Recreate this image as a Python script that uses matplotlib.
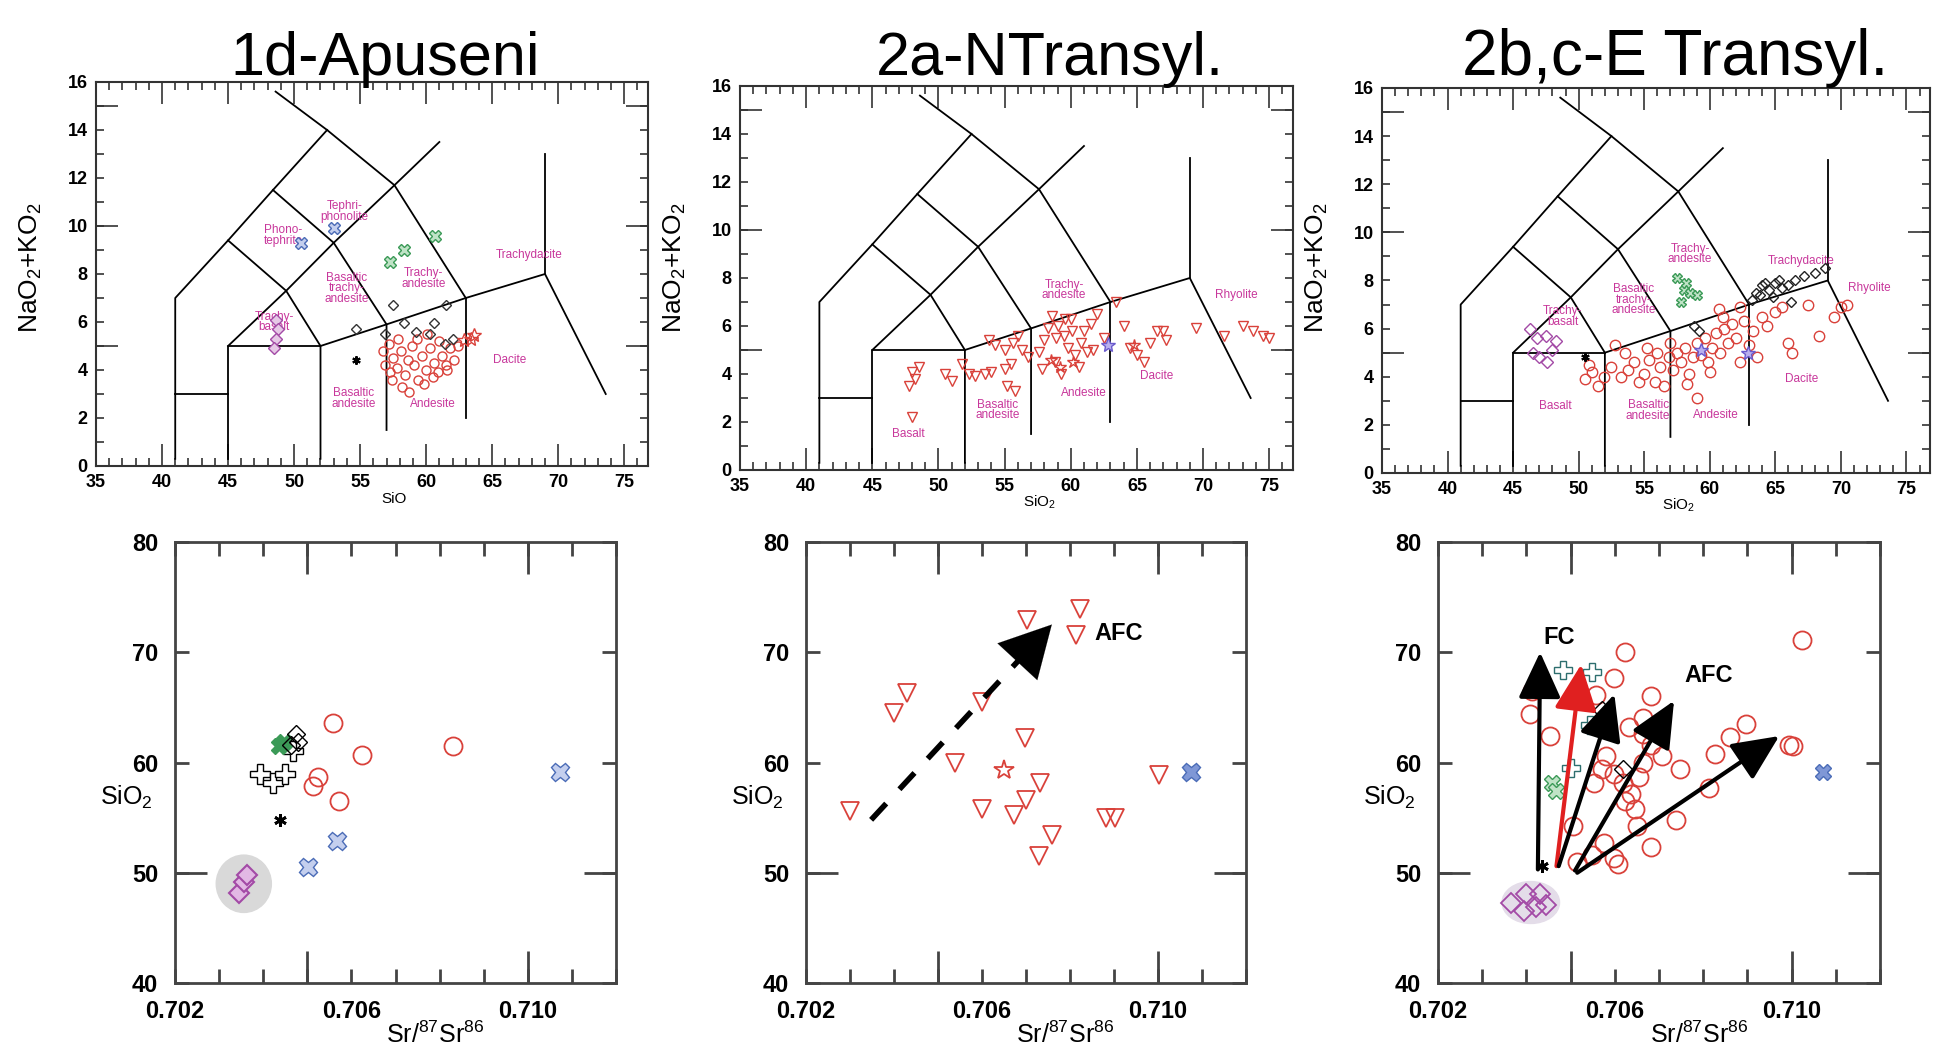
import numpy as np
import matplotlib.pyplot as plt
from matplotlib.ticker import MultipleLocator, FixedLocator, FuncFormatter
from matplotlib.patches import Ellipse

plt.rcParams['font.family'] = ['Liberation Sans', 'DejaVu Sans']
plt.rcParams['font.weight'] = 'bold'
plt.rcParams['mathtext.default'] = 'regular'

W, H = 1936, 1058

RED = '#d9413a'
PURPLE = '#a34aa6'
GREEN = '#3b9a57'
BLUE = '#4b6cb7'
PINK = '#c8379b'

# ---- TAS field boundaries (SiO2, Na2O+K2O)
tas_lines = [
    [(41, 0.3), (41, 7), (45, 9.4), (48.4, 11.5), (52.5, 14)],
    [(48.6, 15.6), (52.5, 14), (57.6, 11.7), (63, 7)],
    [(45, 5), (49.4, 7.3), (53, 9.3), (57.6, 11.7), (61, 13.5)],
    [(41, 3), (45, 3)],
    [(45, 0.3), (45, 5), (52, 5)],
    [(45, 9.4), (49.4, 7.3), (52, 5), (52, 0.3)],
    [(48.4, 11.5), (53, 9.3), (57, 5.9), (57, 1.5)],
    [(52, 5), (57, 5.9), (63, 7), (69, 8), (73.6, 3)],
    [(63, 7), (63, 2)],
    [(69, 8), (69, 13)],
]

# ---- 1d Apuseni, TAS
a_circ_x = [56.7, 57.2, 57.5, 57.8, 58.1, 58.4, 58.6, 58.9, 59.1, 59.4, 59.7, 60.0, 60.3, 60.6, 60.9, 61.2,
            61.5, 61.8, 62.1, 57.4, 58.2, 59.3, 60.1, 57.9, 56.9, 61.0, 62.4, 59.8, 58.7, 57.3, 60.5, 61.6]
a_circ_y = [4.8, 5.1, 4.5, 4.1, 4.8, 3.8, 4.4, 5.0, 4.2, 3.6, 4.6, 4.0, 4.9, 4.3, 3.9, 4.6,
            4.2, 4.9, 4.4, 3.6, 3.3, 5.3, 5.5, 5.3, 4.2, 5.2, 5.0, 3.4, 3.1, 3.9, 3.7, 4.0]
a_dia_x = [57.5, 61.5, 54.7, 58.3, 60.6, 56.9, 60.3, 61.4, 59.2, 62.0]
a_dia_y = [6.7, 6.7, 5.7, 5.95, 5.95, 5.5, 5.5, 5.1, 5.6, 5.3]
a_pdia_x = [48.6, 48.8, 48.6, 48.5]
a_pdia_y = [6.1, 5.7, 5.3, 4.9]
a_gx_x = [57.3, 58.3, 60.7]
a_gx_y = [8.5, 9.0, 9.6]
a_bx_x = [50.5, 53.0]
a_bx_y = [9.3, 9.9]
a_star_x = [62.9, 63.4, 63.6]
a_star_y = [5.25, 5.3, 5.45]
a_ast_x = [54.7]
a_ast_y = [4.4]

# ---- 2a N Transylvania, TAS
b_tri_x = [48.0, 48.2, 47.8, 48.5, 48.0, 50.5, 51.0, 51.8, 52.3, 52.8, 53.5, 54.0, 55.0, 55.5, 55.2, 55.8,
           54.3, 55.0, 55.6, 56.3, 56.8, 57.8, 58.3, 58.6, 59.0, 59.5, 59.8, 60.3, 60.6, 58.8, 61.0, 61.5,
           62.0, 62.5, 60.0, 61.2, 63.4, 64.0, 64.5, 65.0, 65.5, 66.0, 66.5, 67.0, 67.2, 69.5, 71.6, 73.0,
           73.8, 74.5, 75.0, 58.0, 58.9, 59.6, 60.8, 61.7, 57.6, 59.3, 60.1, 56.0, 53.8]
b_tri_y = [4.1, 3.8, 3.5, 4.3, 2.2, 4.0, 3.7, 4.4, 4.0, 3.9, 4.0, 4.1, 4.2, 4.4, 3.5, 3.3,
           5.2, 5.0, 5.3, 5.0, 4.7, 4.2, 5.9, 6.4, 6.0, 5.6, 5.1, 4.8, 4.3, 4.5, 5.8, 6.1,
           6.5, 5.5, 6.3, 4.9, 7.0, 6.0, 5.1, 4.8, 4.5, 5.3, 5.8, 5.8, 5.4, 5.9, 5.6, 6.0,
           5.8, 5.6, 5.5, 5.4, 5.5, 6.3, 5.3, 5.0, 4.9, 4.0, 5.8, 5.6, 5.4]
b_star_x = [58.5, 59.2, 60.2, 64.8]
b_star_y = [4.6, 4.3, 4.5, 5.2]
b_bstar_x = [62.8]
b_bstar_y = [5.2]

# ---- 2b,c E Transylvania, TAS
c_circ_x = [51.0, 50.5, 51.5, 50.8, 51.9, 52.5, 52.8, 53.2, 53.8, 54.2, 54.6, 55.0, 55.4, 55.8, 56.2, 56.5,
            56.9, 57.2, 57.5, 57.8, 58.1, 58.4, 58.7, 59.0, 59.3, 59.6, 59.9, 60.2, 60.5, 60.8, 61.1, 61.4,
            61.7, 62.0, 62.3, 62.6, 63.0, 63.3, 63.6, 64.0, 64.4, 65.0, 65.5, 66.0, 66.3, 67.5, 68.3, 69.5,
            70.0, 70.5, 58.3, 59.0, 60.0, 57.0, 56.0, 53.5, 61.0, 60.7, 62.3, 55.2]
c_circ_y = [4.2, 3.9, 3.6, 4.5, 4.0, 4.4, 5.3, 4.0, 4.3, 4.6, 3.8, 4.1, 4.7, 3.8, 4.4, 3.6,
            4.8, 4.3, 5.0, 4.6, 5.2, 4.1, 4.8, 5.4, 4.9, 5.6, 4.6, 5.2, 5.8, 5.0, 6.0, 5.4,
            6.2, 5.6, 4.6, 6.3, 5.3, 5.9, 4.8, 6.5, 6.1, 6.7, 6.9, 5.4, 5.0, 7.0, 5.7, 6.5,
            6.9, 7.0, 3.7, 3.1, 4.2, 5.4, 5.0, 5.0, 6.5, 6.8, 6.9, 5.2]
c_dia_x = [63.5, 64.0, 64.5, 65.0, 65.5, 66.0, 63.2, 64.8, 65.3, 66.5, 67.2, 68.0, 68.8, 66.2, 58.8, 59.2, 63.8, 64.2]
c_dia_y = [7.5, 7.8, 7.6, 7.9, 7.7, 7.8, 7.2, 7.3, 8.0, 8.0, 8.2, 8.3, 8.5, 7.1, 6.1, 5.9, 7.4, 7.9]
c_gx_x = [57.5, 58.0, 57.8, 58.5, 59.0, 58.2]
c_gx_y = [8.1, 7.6, 7.1, 7.5, 7.4, 7.9]
c_pdia_x = [46.3, 46.8, 47.5, 48.0, 47.0, 46.5, 47.6, 48.3]
c_pdia_y = [6.0, 5.6, 5.7, 5.1, 4.8, 5.0, 4.6, 5.5]
c_ast_x = [50.5]
c_ast_y = [4.8]
c_bstar_x = [59.3, 62.9]
c_bstar_y = [5.1, 5.0]

# ---- 1d Apuseni, Sr isotopes vs SiO2
d_circ_x = [0.70558, 0.70625, 0.70830, 0.70525, 0.70513, 0.70571]
d_circ_y = [63.6, 60.7, 61.5, 58.7, 57.9, 56.5]
d_bx_x = [0.70502, 0.70568, 0.71073]
d_bx_y = [50.5, 52.9, 59.1]
d_ast_x = [0.70439]
d_ast_y = [54.8]
d_plus_x = [0.70393, 0.70422, 0.70450, 0.70468]
d_plus_y = [59.0, 58.1, 59.0, 61.0]
d_gx_x = [0.70436, 0.70448]
d_gx_y = [61.5, 61.9]
d_dia_x = [0.70474, 0.70462, 0.70478]
d_dia_y = [62.6, 61.6, 61.9]
d_pdia_x = [0.70346, 0.70356, 0.70363]
d_pdia_y = [48.2, 49.2, 49.8]

# ---- 2a N Transylvania, Sr isotopes
e_tri_x = [0.70299, 0.70400, 0.70430, 0.70600, 0.70539, 0.70697, 0.70600, 0.70672, 0.70700, 0.70732,
           0.70760, 0.70730, 0.70702, 0.70823, 0.70813, 0.70881, 0.70902, 0.71002]
e_tri_y = [55.6, 64.5, 66.3, 65.5, 60.0, 62.2, 55.8, 55.2, 56.6, 58.1,
           53.4, 51.5, 72.9, 73.9, 71.6, 55.0, 55.0, 58.9]
e_star_x = [0.70650]
e_star_y = [59.3]
e_bx_x = [0.71075]
e_bx_y = [59.1]
e_afc_x = [0.70348, 0.70763]
e_afc_y = [54.8, 72.7]

# ---- 2b,c E Transylvania, Sr isotopes
f_circ_x = [0.70412, 0.70408, 0.70454, 0.70557, 0.70599, 0.70622, 0.70683, 0.70632, 0.70664, 0.70683,
            0.70706, 0.70748, 0.70580, 0.70571, 0.70599, 0.70552, 0.70618, 0.70636, 0.70655, 0.70664,
            0.70645, 0.70622, 0.70650, 0.70683, 0.70739, 0.70599, 0.70608, 0.70576, 0.70548, 0.70515,
            0.70506, 0.70813, 0.70827, 0.70860, 0.70897, 0.70995, 0.71004, 0.71023, 0.70701, 0.70664]
f_circ_y = [66.5, 64.4, 62.4, 66.1, 67.7, 70.0, 66.0, 63.2, 62.6, 61.6,
            60.6, 59.4, 60.6, 59.4, 59.0, 58.1, 58.1, 57.1, 58.7, 60.0,
            55.8, 56.5, 54.2, 52.3, 54.8, 51.3, 50.8, 52.7, 51.6, 51.0,
            54.2, 57.7, 60.8, 62.3, 63.5, 61.6, 61.5, 71.1, 63.2, 64.0]
f_plus_x = [0.70482, 0.70548, 0.70543, 0.70501]
f_plus_y = [68.4, 68.2, 63.4, 59.5]
f_gx_x = [0.70459, 0.70468]
f_gx_y = [58.1, 57.4]
f_dia_x = [0.70571, 0.70618]
f_dia_y = [64.8, 59.4]
f_pdia_x = [0.70366, 0.70399, 0.70431, 0.70445, 0.70394, 0.70422]
f_pdia_y = [47.3, 48.1, 48.1, 47.1, 46.5, 46.9]
f_ast_x = [0.70436]
f_ast_y = [50.6]
f_bx_x = [0.71070]
f_bx_y = [59.1]
f_arr_x0 = [0.70426, 0.70468, 0.70473, 0.70510, 0.70515]
f_arr_y0 = [50.3, 50.6, 50.6, 50.2, 50.0]
f_arr_x1 = [0.70431, 0.70524, 0.70599, 0.70734, 0.70972]
f_arr_y1 = [70.0, 68.9, 66.2, 65.6, 62.4]
f_arr_col = ['black', '#e02020', 'black', 'black', 'black']

titles = ['1d-Apuseni', '2a-NTransyl.', '2b,c-E Transyl.']


def px_box(l, t, r, b):
    return [l / W, 1 - b / H, (r - l) / W, (b - t) / H]


fig = plt.figure(figsize=(W / 100, H / 100), dpi=100)


def tas_axes(box, xlab):
    ax = fig.add_axes(px_box(*box))
    ax.set_xlim(35, 76.8)
    ax.set_ylim(0, 16)
    for seg in tas_lines:
        xs, ys = zip(*seg)
        ax.plot(xs, ys, color='black', lw=1.3, zorder=2)
    ax.xaxis.set_major_locator(MultipleLocator(5))
    ax.xaxis.set_minor_locator(MultipleLocator(1))
    ax.yaxis.set_major_locator(MultipleLocator(1))
    ax.yaxis.set_major_formatter(FuncFormatter(lambda v, p: f'{v:.0f}' if round(v) % 2 == 0 else ''))
    ax.yaxis.set_minor_locator(FixedLocator([0, 5, 10, 15]))
    ax.yaxis.remove_overlapping_locs = False
    ax.tick_params(which='both', direction='in', top=True, right=True, width=1.2, color='#333',
                   labelsize=13, pad=6)
    ax.tick_params(axis='x', which='major', length=16)
    ax.tick_params(axis='x', which='minor', length=6)
    ax.tick_params(axis='y', which='major', length=6)
    ax.tick_params(axis='y', which='minor', length=16)
    for s in ax.spines.values():
        s.set_linewidth(1.5)
        s.set_color('#333')
    ax.text(57.6, -0.085, xlab, transform=ax.get_xaxis_transform(), ha='center', va='center',
            fontsize=11, fontweight='normal')
    return ax


def field(ax, x, y, s):
    ax.text(x, y, s, color=PINK, fontsize=8.5, fontweight='normal', ha='center', va='center',
            linespacing=0.85, zorder=3)


def iso_axes(box):
    ax = fig.add_axes(px_box(*box))
    ax.set_xlim(0.702, 0.712)
    ax.set_ylim(40, 80)
    xt = np.round(np.arange(0.702, 0.7125, 0.001), 3)
    ax.xaxis.set_major_locator(FixedLocator(xt))
    ax.xaxis.set_major_formatter(FuncFormatter(
        lambda v, p: f'{v:.3f}' if int(round(v * 1000)) in (702, 706, 710) else ''))
    ax.xaxis.set_minor_locator(FixedLocator([0.705, 0.710]))
    ax.xaxis.remove_overlapping_locs = False
    ax.yaxis.set_major_locator(MultipleLocator(10))
    ax.yaxis.set_minor_locator(FixedLocator([50]))
    ax.yaxis.remove_overlapping_locs = False
    ax.tick_params(which='both', direction='in', top=True, right=True, width=2, color='#444',
                   labelsize=17, pad=12)
    ax.tick_params(which='major', length=10)
    ax.tick_params(which='minor', length=23)
    for s in ax.spines.values():
        s.set_linewidth(2)
        s.set_color('#444')
    ax.text(-0.05, 0.42, 'SiO$_2$', transform=ax.transAxes, ha='right', va='center',
            fontsize=18, fontweight='normal')
    ax.text(0.59, -0.118, 'Sr/$^{87}$Sr$^{86}$', transform=ax.transAxes, ha='center', va='center',
            fontsize=18, fontweight='normal')
    return ax


def pts(ax, x, y, marker, ec, fc='none', ms=6, mew=1.0, z=4):
    ax.plot(x, y, ls='none', marker=marker, mec=ec, mfc=fc, ms=ms, mew=mew, zorder=z)


# ---------------- top row: TAS diagrams
axA = tas_axes((96, 82, 648, 466), 'SiO')
pts(axA, a_circ_x, a_circ_y, 'o', RED, ms=6.5)
pts(axA, a_dia_x, a_dia_y, 'D', '#333333', ms=5.5)
pts(axA, a_pdia_x, a_pdia_y, 'D', PURPLE, fc='#e6c8e6', ms=6)
pts(axA, a_gx_x, a_gx_y, 'X', GREEN, fc='#bfe3c6', ms=8)
pts(axA, a_bx_x, a_bx_y, 'X', BLUE, fc='#c4cfee', ms=8)
pts(axA, a_star_x, a_star_y, '*', RED, ms=10)
pts(axA, a_ast_x, a_ast_y, (6, 2, 0), 'black', ms=6, mew=1.5)
for x, y, s in [(53.8, 10.6, 'Tephri-\nphonolite'), (49.2, 9.6, 'Phono-\ntephrite'),
                (54.0, 7.4, 'Basaltic\ntrachy-\nandesite'), (48.5, 6.0, 'Trachy-\nbasalt'),
                (59.8, 7.8, 'Trachy-\nandesite'), (67.8, 8.8, 'Trachydacite'), (66.3, 4.4, 'Dacite'),
                (54.5, 2.8, 'Basaltic\nandesite'), (60.5, 2.6, 'Andesite')]:
    field(axA, x, y, s)

axB = tas_axes((740, 86, 1293, 470), 'SiO$_2$')
pts(axB, b_tri_x, b_tri_y, 'v', RED, ms=7)
pts(axB, b_star_x, b_star_y, '*', RED, ms=9)
pts(axB, b_bstar_x, b_bstar_y, '*', '#6a5acd', fc='#b9b0ee', ms=11)
for x, y, s in [(59.5, 7.5, 'Trachy-\nandesite'), (72.5, 7.3, 'Rhyolite'), (66.5, 3.9, 'Dacite'),
                (61.0, 3.2, 'Andesite'), (54.5, 2.5, 'Basaltic\nandesite'), (47.7, 1.5, 'Basalt')]:
    field(axB, x, y, s)

axC = tas_axes((1382, 88, 1930, 473), 'SiO$_2$')
pts(axC, c_circ_x, c_circ_y, 'o', RED, ms=7.5)
pts(axC, c_dia_x, c_dia_y, 'D', '#222222', ms=5.5)
pts(axC, c_gx_x, c_gx_y, 'X', GREEN, fc='#bfe3c6', ms=7)
pts(axC, c_pdia_x, c_pdia_y, 'D', PURPLE, fc='none', ms=6)
pts(axC, c_ast_x, c_ast_y, (6, 2, 0), 'black', ms=6, mew=1.5)
pts(axC, c_bstar_x, c_bstar_y, '*', '#6a5acd', fc='#b9b0ee', ms=10)
for x, y, s in [(58.5, 9.1, 'Trachy-\nandesite'), (67.0, 8.8, 'Trachydacite'), (72.2, 7.7, 'Rhyolite'),
                (54.2, 7.2, 'Basaltic\ntrachy-\nandesite'), (48.8, 6.5, 'Trachy-\nbasalt'),
                (48.2, 2.8, 'Basalt'), (55.3, 2.6, 'Basaltic\nandesite'), (60.5, 2.4, 'Andesite'),
                (67.0, 3.9, 'Dacite')]:
    field(axC, x, y, s)

for ax, xl in [(axA, 31), (axB, 675), (axC, 1317)]:
    fig.text(xl / W, 1 - 268 / H, 'NaO$_2$+KO$_2$', rotation=90, ha='center', va='center',
             fontsize=19, fontweight='normal')

for xc, t, fs in zip([385, 1050, 1675], titles, [44, 44, 46]):
    fig.text(xc / W, 1 - 75 / H, t, ha='center', va='baseline', fontsize=fs, fontweight='normal')

# ---------------- bottom row: SiO2 vs 87Sr/86Sr
axD = iso_axes((175, 542, 616, 983))
axD.add_patch(Ellipse((0.70356, 49.0), 0.00125, 5.2, color='#d9d9d9', zorder=1))
pts(axD, d_pdia_x, d_pdia_y, 'D', PURPLE, fc='#e2b8e4', ms=10, mew=1.5)
pts(axD, d_circ_x, d_circ_y, 'o', RED, ms=13, mew=1.3)
pts(axD, d_bx_x, d_bx_y, 'X', BLUE, fc='#c4cfee', ms=13)
pts(axD, d_plus_x, d_plus_y, 'P', 'black', fc='white', ms=14)
pts(axD, d_gx_x, d_gx_y, 'X', GREEN, fc='#3b9a57', ms=12)
pts(axD, d_dia_x, d_dia_y, 'D', 'black', fc='none', ms=9)
pts(axD, d_ast_x, d_ast_y, (6, 2, 0), 'black', ms=9, mew=2)

axE = iso_axes((806, 542, 1246, 983))
pts(axE, e_tri_x, e_tri_y, 'v', RED, ms=13, mew=1.3)
pts(axE, e_star_x, e_star_y, '*', RED, ms=15, mew=1.3)
pts(axE, e_bx_x, e_bx_y, 'X', BLUE, fc='#7f97d6', ms=13)
axE.plot(e_afc_x[:1] + [e_afc_x[0] + 0.93 * (e_afc_x[1] - e_afc_x[0])],
         e_afc_y[:1] + [e_afc_y[0] + 0.93 * (e_afc_y[1] - e_afc_y[0])],
         color='black', lw=4, ls=(0, (4, 3.5)), zorder=5)
axE.annotate('', xy=(e_afc_x[1], e_afc_y[1]),
             xytext=(e_afc_x[0] + 0.9 * (e_afc_x[1] - e_afc_x[0]), e_afc_y[0] + 0.9 * (e_afc_y[1] - e_afc_y[0])),
             arrowprops=dict(arrowstyle='-|>,head_length=1.4,head_width=0.75', color='black',
                             mutation_scale=26, lw=0.1), zorder=6)
axE.text(0.70911, 71.7, 'AFC', fontsize=17, ha='center', va='center')

axF = iso_axes((1438, 542, 1880, 983))
axF.add_patch(Ellipse((0.70410, 47.3), 0.0013, 3.8, color='#e4dde9', zorder=1))
pts(axF, f_circ_x, f_circ_y, 'o', RED, ms=13, mew=1.3)
pts(axF, f_pdia_x, f_pdia_y, 'D', PURPLE, fc='none', ms=10, mew=1.3)
pts(axF, f_plus_x, f_plus_y, 'P', '#2d6e6e', fc='white', ms=13)
pts(axF, f_gx_x, f_gx_y, 'X', GREEN, fc='#bfe3c6', ms=11)
pts(axF, f_dia_x, f_dia_y, 'D', 'black', fc='none', ms=9)
pts(axF, f_bx_x, f_bx_y, 'X', BLUE, fc='#7f97d6', ms=12)
pts(axF, f_ast_x, f_ast_y, (6, 2, 0), 'black', ms=9, mew=2)
for x0, y0, x1, y1, c in zip(f_arr_x0, f_arr_y0, f_arr_x1, f_arr_y1, f_arr_col):
    axF.annotate('', xy=(x1, y1), xytext=(x0, y0),
                 arrowprops=dict(arrowstyle='-|>,head_length=1.3,head_width=0.6', color=c,
                                 mutation_scale=22, lw=3, shrinkA=0, shrinkB=0), zorder=6)
axF.text(0.70473, 71.3, 'FC', fontsize=17, ha='center', va='center')
axF.text(0.70813, 67.9, 'AFC', fontsize=17, ha='center', va='center')

fig.savefig('out.png', dpi=100)
